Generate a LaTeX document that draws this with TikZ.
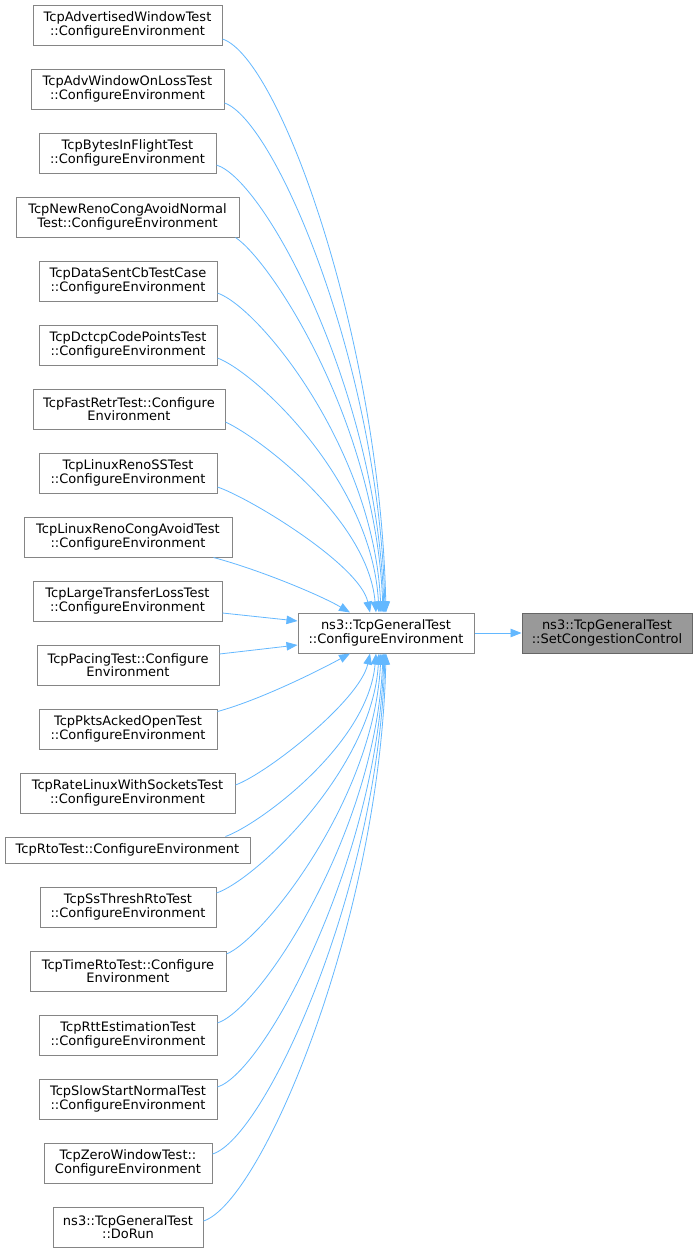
\documentclass[tikz,border=0pt]{standalone}
\usepackage{fontspec}
\setmainfont{DejaVu Sans}
\usetikzlibrary{arrows.meta}
\definecolor{edgeblue}{HTML}{63B8FF}
\definecolor{boxline}{HTML}{858585}
\definecolor{hlline}{HTML}{666666}
\definecolor{hlfill}{HTML}{999999}
\begin{document}
\begin{tikzpicture}[x=1pt,y=-1pt,
  box/.style={draw=boxline, fill=white, line width=1pt, minimum height=40pt, inner sep=0pt, align=center, font=\fontsize{13}{13.4}\selectfont},
  edge/.style={draw=edgeblue, line width=0.8pt, -{Triangle[length=11pt,width=8.5pt]}}]
\useasboundingbox[fill=white] (0,0) rectangle (699,1253);

\node[box, minimum width=189pt] (n1) at (127.5,25) {TcpAdvertisedWindowTest\\::ConfigureEnvironment};
\node[box, minimum width=193pt] (n2) at (127.5,89) {TcpAdvWindowOnLossTest\\::ConfigureEnvironment};
\node[box, minimum width=177pt] (n3) at (127.5,153) {TcpBytesInFlightTest\\::ConfigureEnvironment};
\node[box, minimum width=223pt] (n4) at (127.5,217) {TcpNewRenoCongAvoidNormal\\Test::ConfigureEnvironment};
\node[box, minimum width=178pt] (n5) at (128,281) {TcpDataSentCbTestCase\\::ConfigureEnvironment};
\node[box, minimum width=178pt] (n6) at (128,345) {TcpDctcpCodePointsTest\\::ConfigureEnvironment};
\node[box, minimum width=192pt] (n7) at (129,409) {TcpFastRetrTest::Configure\\Environment};
\node[box, minimum width=178pt] (n8) at (128,473) {TcpLinuxRenoSSTest\\::ConfigureEnvironment};
\node[box, minimum width=208pt] (n9) at (128,537) {TcpLinuxRenoCongAvoidTest\\::ConfigureEnvironment};
\node[box, minimum width=189pt] (n10) at (127.5,601) {TcpLargeTransferLossTest\\::ConfigureEnvironment};
\node[box, minimum width=182pt] (n11) at (128,665) {TcpPacingTest::Configure\\Environment};
\node[box, minimum width=178pt] (n12) at (128,729) {TcpPktsAckedOpenTest\\::ConfigureEnvironment};
\node[box, minimum width=215pt] (n13) at (127.5,793) {TcpRateLinuxWithSocketsTest\\::ConfigureEnvironment};
\node[box, minimum width=245pt, minimum height=26pt] (n14) at (127.5,850) {TcpRtoTest::ConfigureEnvironment};
\node[box, minimum width=176pt] (n15) at (128,907) {TcpSsThreshRtoTest\\::ConfigureEnvironment};
\node[box, minimum width=196pt] (n16) at (128,971) {TcpTimeRtoTest::Configure\\Environment};
\node[box, minimum width=178pt] (n17) at (128,1035) {TcpRttEstimationTest\\::ConfigureEnvironment};
\node[box, minimum width=178pt] (n18) at (128,1099) {TcpSlowStartNormalTest\\::ConfigureEnvironment};
\node[box, minimum width=168pt] (n19) at (128,1163) {TcpZeroWindowTest::\\ConfigureEnvironment};
\node[box, minimum width=150pt] (n20) at (128,1227) {ns3::TcpGeneralTest\\::DoRun};

\node[box, minimum width=176pt] (mid) at (386,633) {ns3::TcpGeneralTest\\::ConfigureEnvironment};
\node[box, minimum width=170pt, fill=hlfill, draw=hlline] (tgt) at (607,633) {ns3::TcpGeneralTest\\::SetCongestionControl};

\draw[edge] (mid) -- (tgt);

% upper callers
\draw[edge] ([yshift=-14pt]n1.east) .. controls (280,58) and (380,340) .. (mid.north);
\draw[edge] ([yshift=-14pt]n2.east) .. controls (275,120) and (379,365) .. ([xshift=-1pt]mid.north);
\draw[edge] ([yshift=-12pt]n3.east) .. controls (265,180) and (377,390) .. ([xshift=-2pt]mid.north);
\draw[edge] ([xshift=-4pt]n4.south east) .. controls (270,260) and (376,420) .. ([xshift=-3pt]mid.north);
\draw[edge] ([yshift=-12pt]n5.east) .. controls (260,308) and (374,450) .. ([xshift=-5pt]mid.north);
\draw[edge] ([yshift=-13pt]n6.east) .. controls (255,372) and (372,480) .. ([xshift=-7pt]mid.north);
\draw[edge] ([yshift=-13pt]n7.east) .. controls (260,438) and (368,520) .. ([xshift=-10pt]mid.north);
\draw[edge] ([yshift=-14pt]n8.east) .. controls (250,498) and (360,565) .. ([xshift=-16pt]mid.north);
\draw[edge] ([xshift=-19pt]n9.south east) .. controls (260,570) and (320,595) .. ([xshift=-36pt]mid.north);
\draw[edge] ([yshift=-12pt]n10.east) -- ([yshift=12pt]mid.west);
\draw[edge] ([yshift=11pt]n11.east) -- ([yshift=-12pt]mid.west);
% lower callers
\draw[edge] ([yshift=-3pt]n12.north east) .. controls (260,700) and (320,670) .. ([xshift=-36pt]mid.south);
\draw[edge] ([yshift=8pt]n13.east) .. controls (268,773) and (360,700) .. ([xshift=-16pt]mid.south);
\draw[edge] ([xshift=-25pt]n14.north east) .. controls (258,825) and (368,745) .. ([xshift=-10pt]mid.south);
\draw[edge] ([yshift=14pt]n15.east) .. controls (255,880) and (372,770) .. ([xshift=-7pt]mid.south);
\draw[edge] ([yshift=17pt]n16.east) .. controls (262,940) and (374,800) .. ([xshift=-5pt]mid.south);
\draw[edge] ([yshift=12pt]n17.east) .. controls (262,1008) and (376,830) .. ([xshift=-3pt]mid.south);
\draw[edge] ([yshift=12pt]n18.east) .. controls (265,1072) and (377,860) .. ([xshift=-2pt]mid.south);
\draw[edge] ([yshift=9pt]n19.east) .. controls (265,1138) and (378,890) .. ([xshift=-1pt]mid.south);
\draw[edge] ([yshift=6pt]n20.east) .. controls (262,1202) and (380,920) .. (mid.south);
\end{tikzpicture}
\end{document}
